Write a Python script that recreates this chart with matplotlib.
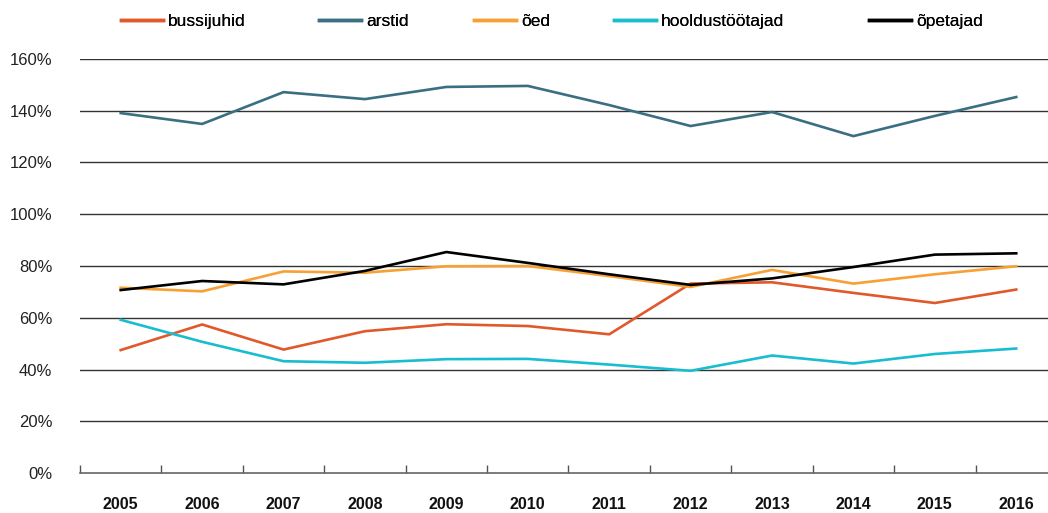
import numpy as np
import matplotlib
matplotlib.use("Agg")
import matplotlib.pyplot as plt
from matplotlib.lines import Line2D

plt.rcParams['font.family'] = ['Liberation Sans', 'DejaVu Sans']

years = ['2005', '2006', '2007', '2008', '2009', '2010',
         '2011', '2012', '2013', '2014', '2015', '2016']

bussijuhid = [47.5, 57.4, 47.7, 54.8, 57.5, 56.8, 53.6, 73.2, 73.7, 69.6, 65.7, 70.9]
arstid = [139.1, 134.9, 147.2, 144.5, 149.2, 149.6, 142.2, 134.1, 139.5, 130.2, 138.0, 145.3]
oed = [71.6, 70.2, 77.9, 77.4, 79.9, 80.0, 76.1, 71.9, 78.5, 73.2, 76.8, 79.9]
hooldustootajad = [59.2, 50.7, 43.2, 42.6, 44.0, 44.1, 41.9, 39.5, 45.4, 42.3, 46.0, 48.1]
opetajad = [70.7, 74.2, 72.9, 78.1, 85.4, 81.2, 76.8, 72.7, 75.2, 79.6, 84.4, 84.9]

series = [
    ('bussijuhid', bussijuhid, '#E0592A'),
    ('arstid', arstid, '#3A6F82'),
    ('õed', oed, '#F7A034'),
    ('hooldustöötajad', hooldustootajad, '#18BDD0'),
    ('õpetajad', opetajad, '#000000'),
]

fig = plt.figure(figsize=(10.48, 5.13), dpi=100)
ax = fig.add_axes([80 / 1048, 1 - 473 / 513, 1 - 80 / 1048, (473 - 59) / 513])

x = np.arange(len(years))
for name, vals, col in series:
    ax.plot(x, vals, color=col, linewidth=1.9, label=name, solid_joinstyle='miter')

ax.set_ylim(0, 160)
ax.set_xlim(-0.5, 11.39)
yt = np.arange(0, 161, 20)
ax.set_yticks(yt)
ax.set_yticklabels([f'{v}%' for v in yt], fontsize=12, color='#222222')
for v in yt[1:]:
    ax.axhline(v, color='#333333', linewidth=1.0, zorder=0)

ax.set_xticks(x)
ax.set_xticklabels(years, fontsize=11.5, fontweight='bold', color='#111111')
ax.set_xticks(np.arange(-0.5, 11.5, 1), minor=True)
ax.tick_params(axis='x', which='major', length=0, pad=17)
ax.tick_params(axis='x', which='minor', length=6, direction='in', color='#555555', width=1)
ax.tick_params(axis='y', length=0, pad=20)

for s in ['top', 'right', 'left']:
    ax.spines[s].set_visible(False)
ax.spines['bottom'].set_color('#666666')
ax.spines['bottom'].set_linewidth(1.2)

# legend entries placed individually along the top
leg_x = [121, 319, 474, 614, 869]
for (name, vals, col), px in zip(series, leg_x):
    h = Line2D([], [], color=col, linewidth=2.5)
    lg = fig.legend([h], [name], loc='center left', bbox_to_anchor=(px / 1048, 1 - 21 / 513),
                    frameon=False, fontsize=12.5, handlelength=2.4, handletextpad=0.3,
                    borderaxespad=0, borderpad=0)
    fig.add_artist(lg)

fig.savefig('out.png', dpi=100)
